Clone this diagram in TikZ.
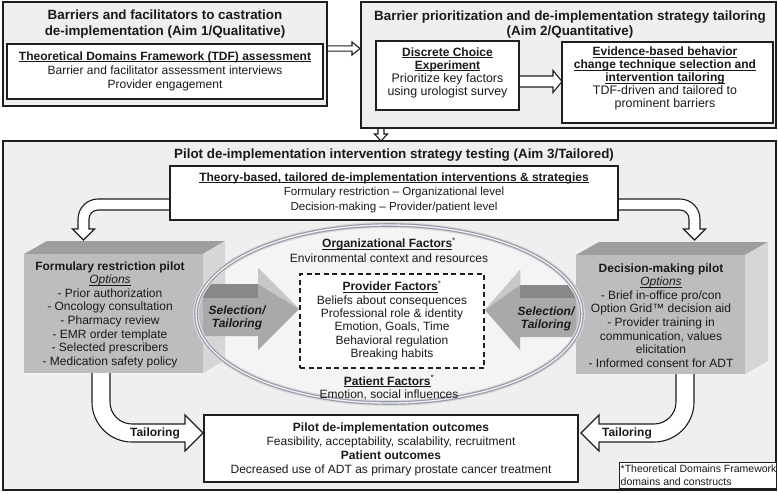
\documentclass[tikz,border=0pt]{standalone}
\usepackage{fontspec}
\setmainfont{Liberation Sans}
\usetikzlibrary{calc}
\newcommand\fsz[2]{\fontsize{#1}{#2}\selectfont}
\newcommand\uln[1]{\setbox0\hbox{#1}\rlap{\rule[-1.9pt]{\wd0}{0.8pt}}\box0}
\newcommand\astk{\textsuperscript{*}}
\newcommand\hR[5]{\draw[hollow] ($(#1)+(0,-#3)$) -- ($(#2)+(-#5,-#3)$) -- ($(#2)+(-#5,-#4)$) -- (#2) -- ($(#2)+(-#5,#4)$) -- ($(#2)+(-#5,#3)$) -- ($(#1)+(0,#3)$) -- cycle;}
\newcommand\vD[5]{\draw[hollow] ($(#1)+(-#3,0)$) -- ($(#2)+(-#3,-#5)$) -- ($(#2)+(-#4,-#5)$) -- (#2) -- ($(#2)+(#4,-#5)$) -- ($(#2)+(#3,-#5)$) -- ($(#1)+(#3,0)$) -- cycle;}
\definecolor{bgA}{HTML}{EFEFEF}
\definecolor{bgIn}{HTML}{F4F4F4}
\definecolor{frontG}{HTML}{BDBDBD}
\definecolor{topG}{HTML}{9E9E9E}
\definecolor{sideG}{HTML}{D6D6D6}
\definecolor{lineK}{HTML}{1E1E1E}
\definecolor{txtK}{HTML}{1A1A1A}
\definecolor{ringA}{HTML}{9699A6}
\definecolor{ringB}{HTML}{F0F2F8}
\definecolor{selA}{HTML}{A9A9A9}
\definecolor{selD}{HTML}{888888}
\definecolor{selL}{HTML}{C8C8C8}
\begin{document}
\begin{tikzpicture}[x=1pt,y=-1pt,
  frame/.style={draw=lineK, line width=1.4pt, fill=bgA, inner sep=0pt, outer sep=0pt},
  wbox/.style={draw=lineK, line width=1.2pt, fill=white, inner sep=0pt, outer sep=0pt},
  hollow/.style={draw=lineK, line width=1.1pt, fill=white, line join=miter},
  txt/.style={align=center, inner sep=0pt, text=txtK, font=\fsz{12}{14}},
  ttl/.style={align=center, inner sep=0pt, text=txtK, font=\fsz{13.4}{15.5}\bfseries},
  graytxt/.style={align=center, inner sep=0pt, text=txtK, font=\fsz{12}{13.6}},
  seltxt/.style={align=center, inner sep=0pt, text=txtK, font=\fsz{12}{13}\bfseries\itshape},
  selarrow/.style={fill=selA, draw=none}]
\useasboundingbox (0,0) rectangle (778,493);
\fill[white] (0,0) rectangle (778,493);

% straight hollow arrows (drawn first, frames cover their ends)
\coordinate (a12s) at (327,48.5);
\coordinate (a12e) at (360,48.5);
\hR{a12s}{a12e}{2.6}{6.5}{8}
\coordinate (a23s) at (381,128);
\coordinate (a23e) at (381,141);
\vD{a23s}{a23e}{3}{6.5}{7}

% frames
\node[frame, minimum width=324pt, minimum height=104pt] (aimone) at (165,54) {};
\node[frame, minimum width=415pt, minimum height=126pt] (aimtwo) at (568.5,65) {};
\node[frame, minimum width=773pt, minimum height=349pt] (aimthree) at (389.5,315.5) {};

% aim 1
\node[ttl] (t1) at (165,24) {Barriers and facilitators to castration\\de-implementation (Aim 1/Qualitative)};
\node[wbox, minimum width=316pt, minimum height=55pt] (tdf) at (165,71.5) {};
\node[txt] (tdftxt) at (165,71) {\uln{\textbf{Theoretical Domains Framework (TDF) assessment}}\\Barrier and facilitator assessment interviews\\Provider engagement};

% aim 2
\node[ttl, font=\fsz{13.4}{15}\bfseries] (t2) at (570,24.5) {Barrier prioritization and de-implementation strategy tailoring\\(Aim 2/Quantitative)};
\coordinate (dcs) at (519,81.5);
\coordinate (dce) at (562,81.5);
\hR{dcs}{dce}{5.5}{11}{9}
\node[wbox, minimum width=143pt, minimum height=69pt] (dce) at (447.5,75.5) {};
\node[txt, font=\fsz{12.4}{13.1}] (dcetxt) at (447.5,72.8) {\uln{\fsz{12}{13.1}\textbf{Discrete Choice}}\\\uln{\fsz{12}{13.1}\textbf{Experiment}}\\Prioritize key factors\\using urologist survey};
\node[wbox, minimum width=211pt, minimum height=81pt] (ebb) at (667.5,82.5) {};
\node[txt, font=\fsz{12.4}{12.8}] (ebbtxt) at (665,78.5) {\uln{\fsz{12}{12.8}\textbf{Evidence-based behavior}}\\\uln{\fsz{12}{12.8}\textbf{change technique selection and}}\\\uln{\fsz{12}{12.8}\textbf{intervention tailoring}}\\TDF-driven and tailored to\\prominent barriers};

% aim 3 title
\node[ttl] (t3) at (394,155) {Pilot de-implementation intervention strategy testing (Aim 3/Tailored)};

% ellipse interior
\node[inner sep=0pt, minimum width=386pt, minimum height=178pt] (ring) at (389,314) {};
\fill[bgIn] (ring.center) ellipse [x radius=193, y radius=89];

% curved arrows from theory box
\draw[hollow] (170,199) -- (98,199) .. controls (87,199) and (78,208) .. (78,219) -- (78,229) -- (72.5,229) -- (83.5,240) -- (94.5,229) -- (89,229) -- (89,219) .. controls (89,214) and (93,210) .. (98,210) -- (170,210) -- cycle;
\draw[hollow] (618,199) -- (680,199) .. controls (691,199) and (700,208) .. (700,219) -- (700,229) -- (705.5,229) -- (694.5,240) -- (683.5,229) -- (689,229) -- (689,219) .. controls (689,214) and (685,210) .. (680,210) -- (618,210) -- cycle;

% bottom tailoring arrows
\draw[hollow] (92,372) -- (92,402) .. controls (92,424.1) and (109.9,442) .. (132,442) -- (185,442) -- (185,451) -- (203,433) -- (185,415) -- (185,424) -- (132,424) .. controls (119.85,424) and (110,414.15) .. (110,402) -- (110,372) -- cycle;
\draw[hollow] (694,373) -- (694,402) .. controls (694,424.1) and (676.1,442) .. (654,442) -- (599,442) -- (599,451) -- (581,433) -- (599,415) -- (599,424) -- (654,424) .. controls (666.15,424) and (676,414.15) .. (676,402) -- (676,373) -- cycle;
\node[inner sep=0pt, text=txtK, font=\fsz{12}{14}\bfseries] (tl1) at (155,433) {Tailoring};
\node[inner sep=0pt, text=txtK, font=\fsz{12}{14}\bfseries] (tl2) at (627,433) {Tailoring};

% left 3D box
\fill[topG] (24,254) -- (47,241) -- (225,241) -- (203,254) -- cycle;
\fill[sideG] (203,254) -- (225,241) -- (225,360) -- (203,373) -- cycle;
\node[fill=frontG, inner sep=0pt, minimum width=179pt, minimum height=119pt] (frp) at (113.5,313.5) {};
% right 3D box
\fill[topG] (576,255) -- (599,242) -- (768,242) -- (745,255) -- cycle;
\fill[sideG] (745,255) -- (768,242) -- (768,361) -- (745,374) -- cycle;
\node[fill=frontG, inner sep=0pt, minimum width=169pt, minimum height=119pt] (dmp) at (660.5,314.5) {};

\node[graytxt] (frptxt) at (110,314.5) {\textbf{Formulary restriction pilot}\\\uln{\textit{Options}}\\- Prior authorization\\- Oncology consultation\\- Pharmacy review\\- EMR order template\\- Selected prescribers\\- Medication safety policy};
\node[graytxt] (dmptxt) at (661,315.5) {\textbf{Decision-making pilot}\\\uln{\textit{Options}}\\- Brief in-office pro/con\\Option Grid™ decision aid\\- Provider training in\\communication, values\\elicitation\\- Informed consent for ADT};

% selection arrows
\path[selarrow] (203,284) -- (258,284) -- (258,268) -- (299,309) -- (258,350) -- (258,336) -- (203,336) -- cycle;
\fill[selD] (203,284) rectangle (258,298);
\fill[selL] (258,268) -- (299,309) -- (258,284) -- cycle;
\path[selarrow] (576,285) -- (520,285) -- (520,270) -- (485,310) -- (520,350) -- (520,337) -- (576,337) -- cycle;
\fill[selD] (520,285) rectangle (576,298);
\fill[selL] (520,270) -- (485,310) -- (520,285) -- cycle;
\node[seltxt] (sel1) at (237,317.5) {Selection/\\Tailoring};
\node[seltxt] (sel2) at (546,318.5) {Selection/\\Tailoring};

% ring
\draw[line width=6pt, color=gray!30] (ring.center) ellipse [x radius=193, y radius=89];
\draw[line width=3.6pt, color=ringA] (ring.center) ellipse [x radius=193, y radius=89];
\draw[line width=1.3pt, color=ringB] (ring.center) ellipse [x radius=193, y radius=89];

% theory box
\node[wbox, minimum width=448pt, minimum height=54pt] (theory) at (394,193) {};
\node[txt, font=\fsz{11.6}{14.5}] (theorytxt) at (394,192.7) {\uln{\fsz{12}{14.5}\textbf{Theory-based, tailored de-implementation interventions \& strategies}}\\Formulary restriction – Organizational level\\Decision-making – Provider/patient level};

% factors
\node[txt, font=\fsz{12}{15}] (org) at (389,250.5) {\uln{\textbf{Organizational Factors}}\astk\\Environmental context and resources};
\node[draw=lineK, line width=1.3pt, dash pattern=on 5pt off 3.5pt, fill=white, inner sep=0pt, minimum width=184pt, minimum height=94pt] (prov) at (392,321) {};
\node[txt, font=\fsz{12}{13.4}] (provtxt) at (392,320.5) {\uln{\textbf{Provider Factors}}\astk\\Beliefs about consequences\\Professional role \& identity\\Emotion, Goals, Time\\Behavioral regulation\\Breaking habits};
\node[txt, font=\fsz{12}{13.2}] (pat) at (389,387.5) {\uln{\textbf{Patient Factors}}\astk\\Emotion, social influences};

% outcomes
\node[wbox, minimum width=374pt, minimum height=67pt] (outc) at (391,448.5) {};
\node[txt, font=\fsz{12}{14}] (outctxt) at (391,449) {\textbf{Pilot de-implementation outcomes}\\Feasibility, acceptability, scalability, recruitment\\\textbf{Patient outcomes}\\Decreased use of ADT as primary prostate cancer treatment};

% footnote
\node[draw=lineK, line width=0.9pt, fill=white, inner sep=0pt, minimum width=157pt, minimum height=26pt] (fnbox) at (697.5,475) {};
\node[anchor=west, align=left, inner sep=0pt, text=txtK, font=\fsz{10.5}{13}] (fn) at (620.5,475) {*Theoretical Domains Framework\\domains and constructs};
\end{tikzpicture}
\end{document}
